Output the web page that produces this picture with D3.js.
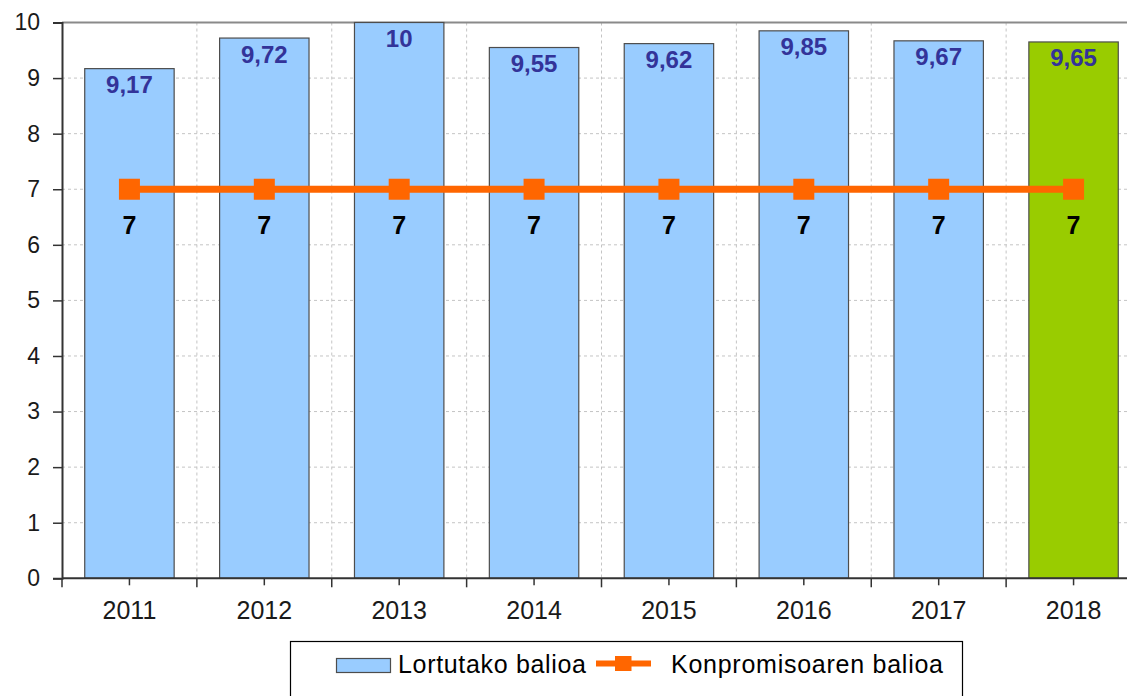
<!DOCTYPE html>
<html>
<head>
<meta charset="utf-8">
<script src="https://cdn.jsdelivr.net/npm/d3@7"></script>
<style>
  html, body { margin: 0; padding: 0; background: #fff; }
  svg { display: block; font-family: "Liberation Sans", Arial, sans-serif; }
</style>
</head>
<body>
<svg id="chart" width="1127" height="696"></svg>
<script>
const years = ["2011", "2012", "2013", "2014", "2015", "2016", "2017", "2018"];
const achieved = [9.17, 9.72, 10, 9.55, 9.62, 9.85, 9.67, 9.65];
const commitment = [7, 7, 7, 7, 7, 7, 7, 7];
const yTicks = [0, 1, 2, 3, 4, 5, 6, 7, 8, 9, 10];
const seriesNames = ["Lortutako balioa", "Konpromisoaren balioa"];

const svg = d3.select("#chart");
const pLeft = 62, pRight = 1141, pTop = 22.5, pBottom = 578.3;

const x = d3.scaleBand().domain(years).range([pLeft, pRight]).paddingInner(0.337).paddingOuter(0.1685);
const xc = d3.scaleBand().domain(years).range([pLeft, pRight]).padding(0);
const y = d3.scaleLinear().domain([0, 10]).range([pBottom, pTop]);

const fmt = v => String(v).replace(".", ",");

// gridlines horizontal
svg.append("g").selectAll("line").data(yTicks.filter(t => t > 0)).join("line")
  .attr("x1", pLeft).attr("x2", 1127)
  .attr("y1", d => y(d)).attr("y2", d => y(d))
  .attr("stroke", "#c4c4c4").attr("stroke-width", 1).attr("stroke-dasharray", "3,3");

// gridlines vertical at band boundaries
svg.append("g").selectAll("line").data(years.slice(1)).join("line")
  .attr("x1", d => xc(d)).attr("x2", d => xc(d))
  .attr("y1", pTop).attr("y2", pBottom)
  .attr("stroke", "#c4c4c4").attr("stroke-width", 1).attr("stroke-dasharray", "3,3");

// top border
svg.append("line").attr("x1", pLeft).attr("x2", 1127).attr("y1", pTop).attr("y2", pTop)
  .attr("stroke", "#8a8a8a").attr("stroke-width", 2);

// bars
svg.append("g").selectAll("rect").data(years).join("rect")
  .attr("x", d => x(d)).attr("width", x.bandwidth())
  .attr("y", (d, i) => y(achieved[i])).attr("height", (d, i) => pBottom - y(achieved[i]))
  .attr("fill", (d, i) => i === years.length - 1 ? "#99CC00" : "#99CCFF")
  .attr("stroke", "#4d4d4d").attr("stroke-width", 1.2);

// bar labels
svg.append("g").selectAll("text").data(years).join("text")
  .attr("x", d => x(d) + x.bandwidth() / 2)
  .attr("y", (d, i) => y(achieved[i]) + 24.5)
  .attr("text-anchor", "middle")
  .attr("font-size", 24).attr("font-weight", "bold").attr("fill", "#333399")
  .text((d, i) => fmt(achieved[i]));

// axes
const yAxis = svg.append("g").attr("transform", `translate(${pLeft},0)`)
  .call(d3.axisLeft(y).tickValues(yTicks).tickSize(9).tickPadding(13).tickFormat(d3.format("d")));
yAxis.select(".domain").attr("stroke", "#333").attr("stroke-width", 2);
yAxis.selectAll(".tick line").attr("stroke", "#333").attr("stroke-width", 1.5);
yAxis.selectAll("text").attr("font-size", 23).attr("fill", "#1a1a1a")
  .attr("font-family", "Liberation Sans, Arial, sans-serif");

// x axis line
svg.append("line").attr("x1", pLeft).attr("x2", 1127).attr("y1", pBottom).attr("y2", pBottom)
  .attr("stroke", "#333").attr("stroke-width", 2);
// center ticks
svg.append("g").selectAll("line").data(years).join("line")
  .attr("x1", d => xc(d) + xc.bandwidth() / 2).attr("x2", d => xc(d) + xc.bandwidth() / 2)
  .attr("y1", pBottom).attr("y2", pBottom + 7)
  .attr("stroke", "#333").attr("stroke-width", 1.5);
// boundary ticks
svg.append("g").selectAll("line").data(years).join("line")
  .attr("x1", d => xc(d)).attr("x2", d => xc(d))
  .attr("y1", pBottom).attr("y2", pBottom + 9)
  .attr("stroke", "#333").attr("stroke-width", 1.5);
// year labels
svg.append("g").selectAll("text").data(years).join("text")
  .attr("x", d => xc(d) + xc.bandwidth() / 2).attr("y", 619)
  .attr("text-anchor", "middle").attr("font-size", 25).attr("fill", "#1a1a1a")
  .text(d => d);

// commitment line
const cx = d => xc(d) + xc.bandwidth() / 2;
svg.append("path")
  .datum(years)
  .attr("d", d3.line().x(d => cx(d)).y((d, i) => y(commitment[i])))
  .attr("fill", "none").attr("stroke", "#FF6600").attr("stroke-width", 7);
svg.append("g").selectAll("rect").data(years).join("rect")
  .attr("x", d => cx(d) - 10.5).attr("y", (d, i) => y(commitment[i]) - 10.5)
  .attr("width", 21).attr("height", 21).attr("fill", "#FF6600");
svg.append("g").selectAll("text").data(years).join("text")
  .attr("x", d => cx(d)).attr("y", (d, i) => y(commitment[i]) + 44.5)
  .attr("text-anchor", "middle").attr("font-size", 25).attr("font-weight", "bold").attr("fill", "#000")
  .text((d, i) => commitment[i]);

// legend
const lg = svg.append("g");
lg.append("rect").attr("x", 290.5).attr("y", 641.5).attr("width", 672).attr("height", 70)
  .attr("fill", "#fff").attr("stroke", "#000").attr("stroke-width", 1.2);
lg.append("rect").attr("x", 336.5).attr("y", 658.5).attr("width", 54).attr("height", 14)
  .attr("fill", "#99CCFF").attr("stroke", "#4d4d4d").attr("stroke-width", 1.2);
lg.append("text").attr("x", 398).attr("y", 672.5).attr("font-size", 25).attr("fill", "#000")
  .attr("textLength", 188).text(seriesNames[0]);
lg.append("line").attr("x1", 596).attr("x2", 651).attr("y1", 663.5).attr("y2", 663.5)
  .attr("stroke", "#FF6600").attr("stroke-width", 6);
lg.append("rect").attr("x", 615).attr("y", 656).attr("width", 16.5).attr("height", 15).attr("fill", "#FF6600");
lg.append("text").attr("x", 671).attr("y", 672.5).attr("font-size", 25).attr("fill", "#000")
  .attr("textLength", 272).text(seriesNames[1]);
</script>
</body>
</html>
